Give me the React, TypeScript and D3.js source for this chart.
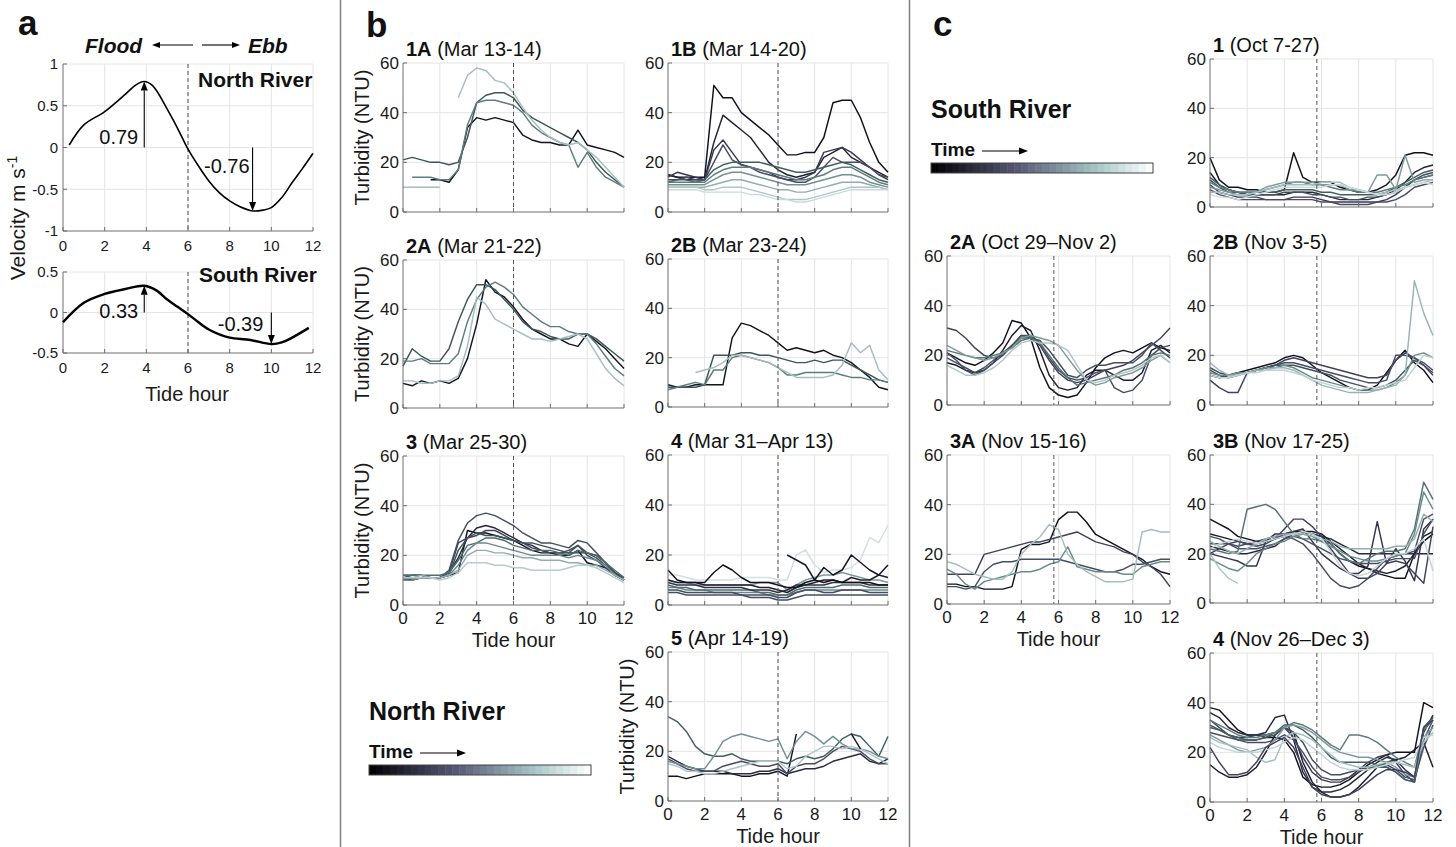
import { useEffect, useRef } from 'react';
import * as d3 from 'd3';

const _ = null;
const FONT = 'Liberation Sans, Arial, Helvetica, sans-serif';

// sampling grid of the turbidity records (tide hour)
const HOURS = [0, 0.5, 1, 1.5, 2, 2.5, 3, 3.5, 4, 4.5, 5, 5.5, 6, 6.5, 7, 7.5, 8, 8.5, 9, 9.5, 10, 10.5, 11, 11.5, 12];
const X_TICKS = [0, 2, 4, 6, 8, 10, 12];
const Y_TICKS = [0, 20, 40, 60];

// ---- panel a: tidal velocity ----
const northHour = [0.3, 1, 2, 3, 3.5, 3.9, 4.3, 5, 5.5, 6, 6.5, 7, 7.5, 8, 8.5, 9.1, 9.6, 10, 10.5, 11, 11.5, 12];
const northVel = [0.03, 0.27, 0.43, 0.64, 0.75, 0.79, 0.74, 0.46, 0.23, -0.02, -0.22, -0.4, -0.54, -0.64, -0.71, -0.76, -0.75, -0.72, -0.6, -0.42, -0.25, -0.07];
const southHour = [0, 1, 2, 3, 3.9, 4.5, 5, 5.5, 6, 6.5, 7, 7.5, 8, 9, 10, 10.5, 11, 11.8];
const southVel = [-0.12, 0.12, 0.23, 0.29, 0.33, 0.27, 0.16, 0.07, -0.02, -0.12, -0.21, -0.27, -0.31, -0.34, -0.39, -0.37, -0.31, -0.19];
const northPeakHour = [3.9, 9.1];
const northPeakVel = [0.79, -0.76];
const southPeakHour = [3.9, 10];
const southPeakVel = [0.33, -0.39];

// ---- panel b: North River turbidity (NTU), one row per day, time index 0..1 ----
const b1A = [
  [_, _, _, 13, 13, 12, 17, 34, 38, 37, 38, 37, 36, 31, 29, 28, 28, 27, 27, 33, 27, 26, 25, 24, 22],
  [21, 22, 21, 20, 20, 19, 20, 30, 44, 47, 48, 48, 46, 41, 38, 36, 34, 32, 30, 28, 25, 20, 16, 13, 10],
  [_, 14, 14, 14, 13, 13, 17, 35, 44, 45, 45, 44, 43, 40, 35, 32, 30, 28, 27, 18, 24, 18, 14, 12, 10],
  [10, 10, 10, 10, 10, _, 46, 55, 58, 57, 53, 52, 48, 42, 37, 33, 30, 28, 27, 28, 25, 22, 18, 14, 10],
];
const b1ATime = [0.03, 0.5, 0.65, 0.85];

const b1B = [
  [15, 14, 14, 14, 14, 51, 46, 46, 40, 37, 34, 31, 27, 23, 23, 24, 24, 30, 44, 45, 45, 38, 28, 20, 16],
  [15, 14, 13, 13, 13, 28, 39, 36, 33, 30, 25, 20, 17, 15, 14, 15, 16, 22, 24, 26, 22, 20, 18, 16, 14],
  [14, 16, 15, 14, 13, 25, 29, 24, 19, 18, 17, 16, 14, 13, 13, 14, 16, 24, 25, 26, 24, 21, 18, 15, 13],
  [13, 13, 14, 13, 13, 20, 27, 21, 19, 18, 16, 15, 14, 13, 12, 12, 14, 18, 22, 20, 20, 20, 18, 15, 14],
  [12, 13, 13, 12, 13, 17, 19, 20, 20, 20, 20, 19, 18, 17, 16, 16, 17, 18, 19, 20, 19, 17, 15, 13, 12],
  [12, 12, 12, 12, 12, 15, 17, 18, 18, 18, 17, 16, 15, 14, 13, 13, 14, 15, 17, 18, 18, 16, 14, 12, 11],
  [11, 11, 11, 11, 11, 13, 15, 16, 16, 15, 14, 13, 12, 11, 11, 11, 12, 13, 14, 15, 15, 14, 12, 11, 10],
  [10, 10, 10, 10, 10, 11, 12, 13, 13, 12, 11, 10, 9, 9, 8, 8, 9, 10, 11, 12, 12, 12, 11, 10, 9],
  [10, 10, 10, 10, 9, 9, 10, 10, 10, 9, 8, 7, 6, 5, 5, 5, 6, 7, 8, 9, 10, 10, 10, 10, 9],
  [9, 9, 9, 9, 8, 8, 8, 8, 8, 7, 7, 6, 5, 5, 4, 4, 5, 6, 7, 8, 9, 9, 9, 9, 9],
];
const b1BTime = [0.02, 0.12, 0.25, 0.35, 0.55, 0.65, 0.72, 0.8, 0.88, 0.95];

const b2A = [
  [10, 9, 11, 10, 11, 10, 12, 20, 34, 52, 47, 45, 41, 36, 32, 30, 28, 28, 26, 25, 30, 27, 24, 20, 16],
  [17, 24, 21, 19, 19, 24, 35, 44, 50, 50, 48, 44, 40, 35, 32, 31, 29, 28, 28, 30, 30, 28, 25, 22, 19],
  [19, 19, 20, 18, 18, 18, 22, 35, 44, 49, 51, 49, 46, 41, 38, 35, 33, 33, 31, 30, 30, 26, 21, 16, 13],
  [11, 11, 10, 10, 11, 11, 13, 25, 45, 42, 36, 34, 32, 30, 28, 28, 27, 28, 29, 30, 28, 22, 16, 12, 9],
];
const b2ATime = [0.03, 0.5, 0.65, 0.85];

const b2B = [
  [9, 8, 8, 9, 9, 9, 9, 28, 34, 33, 31, 29, 26, 23, 24, 23, 22, 23, 21, 20, 18, 15, 12, 8, 7],
  [8, 8, 8, 8, 9, 21, 21, 21, 22, 22, 21, 21, 20, 19, 18, 18, 19, 18, 19, 19, 17, 15, 13, 11, 10],
  [7, 8, 9, 10, 9, 15, 15, 20, 21, 20, 19, 18, 16, 13, 13, 14, 14, 14, 14, 13, 12, 12, 11, 11, 10],
  [_, _, _, 14, 15, 16, 18, 21, 21, 20, 19, 18, 16, 14, 12, 12, 12, 12, 13, 17, 26, 22, 25, 15, 11],
];
const b2BTime = [0.03, 0.5, 0.65, 0.85];

const b3 = [
  [11, 10, 11, 11, 11, 12, 13, 30, 29, 29, 28, 27, 26, 24, 22, 21, 21, 20, 20, 22, 17, 16, 15, 12, 10],
  [11, 11, 11, 11, 11, 13, 19, 27, 31, 32, 31, 29, 27, 25, 24, 22, 21, 21, 21, 21, 21, 20, 17, 13, 11],
  [12, 12, 12, 11, 11, 13, 25, 27, 28, 30, 30, 28, 26, 25, 23, 22, 21, 21, 22, 24, 20, 18, 15, 12, 10],
  [11, 12, 12, 11, 11, 14, 26, 33, 36, 37, 36, 34, 32, 29, 27, 25, 25, 24, 23, 26, 25, 21, 17, 13, 10],
  [10, 11, 11, 11, 11, 12, 22, 27, 29, 28, 28, 27, 26, 25, 25, 24, 23, 22, 21, 24, 21, 19, 16, 13, 10],
  [12, 12, 12, 12, 12, 13, 18, 24, 25, 27, 27, 26, 24, 23, 22, 22, 22, 21, 20, 22, 21, 20, 17, 14, 11],
  [10, 10, 11, 11, 11, 12, 16, 22, 25, 25, 24, 23, 22, 21, 20, 20, 20, 20, 19, 20, 19, 18, 16, 12, 10],
  [11, 11, 12, 11, 11, 12, 14, 20, 22, 22, 21, 21, 20, 19, 19, 18, 18, 18, 17, 17, 16, 16, 14, 12, 10],
  [11, 11, 11, 11, 10, 11, 13, 17, 17, 17, 16, 16, 15, 15, 14, 14, 14, 14, 15, 16, 16, 15, 13, 11, 9],
];
const b3Time = [0.03, 0.15, 0.3, 0.4, 0.5, 0.6, 0.7, 0.8, 0.9];

const b4 = [
  [12, 12, 11, 10, 10, 10, 10, 10, 11, 11, 11, 11, 10, 10, 20, 22, 16, 13, 14, 14, 15, 18, 27, 25, 32],
  [10, 9, 9, 8, 8, 8, 8, 8, 8, 8, 9, 9, 9, 6, 8, 10, 11, 12, 12, 13, 12, 11, 10, 10, 9],
  [7, 7, 6, 6, 6, 5, 5, 5, 5, 5, 5, 4, 4, 4, 5, 6, 6, 6, 6, 6, 6, 6, 6, 6, 6],
  [8, 7, 7, 6, 6, 6, 6, 6, 6, 6, 5, 5, 4, 4, 6, 7, 7, 7, 7, 8, 8, 8, 7, 7, 7],
  [5, 5, 4, 4, 4, 4, 4, 4, 4, 3, 3, 3, 2, 2, 3, 4, 4, 4, 4, 4, 4, 4, 4, 4, 4],
  [6, 6, 5, 5, 5, 5, 5, 5, 4, 4, 4, 4, 3, 3, 5, 6, 6, 5, 5, 6, 6, 6, 5, 5, 5],
  [9, 8, 8, 8, 7, 7, 7, 7, 7, 6, 6, 6, 5, 6, 8, 8, 8, 8, 9, 9, 9, 9, 8, 8, 8],
  [10, 9, 9, 9, 8, 8, 8, 8, 8, 8, 7, 7, 6, 5, 7, 8, 9, 10, 10, 9, 11, 10, 10, 12, 11],
  [_, _, _, _, _, _, _, _, _, _, _, _, _, 20, 18, 16, 10, 15, 12, 14, 20, 17, 14, 12, 16],
  [14, 10, 9, 9, 9, 13, 16, 14, 11, 9, 9, 9, 8, 7, 7, 9, 10, 9, 10, 9, 9, 9, 9, 8, 8],
];
const b4Time = [0.97, 0.75, 0.7, 0.6, 0.45, 0.35, 0.2, 0.1, 0.05, 0.02];

const b5 = [
  [10, 10, 9, 10, 11, 11, 11, 11, 10, 10, 11, 11, 12, 10, 27, _, _, _, _, _, _, _, _, _, _],
  [18, 16, 14, 13, 12, 12, 12, 11, 11, 11, 12, 12, 13, 11, 12, 13, 13, 14, 16, 17, 18, 19, 16, 15, 17],
  [17, 15, 13, 12, 12, 12, 14, 15, 16, 15, 14, 14, 15, 11, 14, 15, 15, 17, 20, 22, 21, 20, 17, 15, 15],
  [34, 32, 28, 22, 19, 18, 18, 19, 17, 16, 16, 16, 16, 15, 17, 18, 17, 18, 21, 25, 27, 26, 22, 18, 26],
  [16, 15, 14, 13, 13, 18, 24, 26, 27, 26, 25, 24, 25, 17, 24, 28, 26, 23, 26, 23, 21, 21, 20, 18, 17],
  [15, 14, 12, 12, 11, 11, 12, 13, 14, 15, 16, 16, 16, 13, 14, 18, 20, 22, 22, 21, 22, 21, 19, 17, 15],
  [_, _, _, _, _, _, _, _, _, _, _, _, _, _, _, _, _, _, _, _, 27, 21, _, _, _],
];
const b5Time = [0.03, 0.18, 0.35, 0.55, 0.72, 0.88, 0.05];

// ---- panel c: South River turbidity (NTU) ----
const c1 = [
  [20, 11, 8, 8, 7, 7, 6, 6, 7, 22, 12, 10, 10, 10, 8, 7, 6, 6, 7, 9, 13, 21, 22, 22, 21],
  [14, 9, 7, 6, 5, 5, 5, 5, 5, 6, 6, 6, 5, 4, 3, 3, 3, 3, 4, 5, 7, 10, 14, 16, 17],
  [9, 6, 5, 4, 4, 4, 3, 3, 3, 4, 4, 4, 3, 2, 2, 2, 2, 2, 2, 3, 5, 8, 11, 12, 13],
  [7, 5, 4, 3, 3, 3, 3, 3, 3, 3, 3, 3, 2, 2, 1, 1, 1, 1, 2, 2, 3, 5, 8, 9, 10],
  [11, 8, 6, 6, 5, 5, 5, 5, 6, 6, 6, 5, 5, 4, 4, 3, 3, 4, 4, 5, 6, 8, 11, 13, 14],
  [12, 9, 7, 6, 6, 6, 6, 6, 7, 7, 7, 7, 6, 6, 5, 5, 5, 5, 5, 6, 8, 10, 12, 14, 15],
  [10, 8, 7, 6, 6, 6, 7, 8, 9, 10, 10, 9, 9, 8, 7, 7, 6, 6, 6, 7, 8, 9, 11, 12, 13],
  [8, 7, 6, 5, 5, 6, 8, 9, 10, 10, 10, 10, 9, 9, 9, 7, 7, 6, 13, 13, 7, 21, 10, 11, 11],
  [6, 6, 5, 5, 5, 6, 7, 8, 9, 9, 9, 9, 10, 10, 10, 8, 7, 6, 5, 6, 7, 8, 9, 10, 11],
  [5, 4, 4, 3, 4, 5, 6, 7, 8, 8, 8, 8, 8, 9, 9, 8, 7, 6, 5, 5, 6, 8, 9, 10, 9],
];
const c1Time = [0.02, 0.12, 0.25, 0.35, 0.45, 0.55, 0.65, 0.75, 0.85, 0.95];

const c2A = [
  [21, 19, 17, 16, 18, 21, 25, 34, 33, 27, 15, 7, 4, 3, 4, 9, 15, 19, 21, 22, 21, 23, 25, 23, 22],
  [17, 16, 14, 13, 14, 17, 22, 28, 32, 30, 22, 12, 7, 6, 7, 12, 14, 14, 12, 10, 10, 13, 22, 24, 21],
  [31, 30, 27, 23, 20, 19, 20, 24, 28, 27, 24, 18, 13, 10, 9, 10, 12, 14, 15, 16, 18, 21, 24, 27, 31],
  [21, 18, 14, 12, 14, 17, 20, 24, 28, 28, 25, 19, 14, 11, 10, 11, 13, 14, 7, 5, 6, 10, 20, 23, 24],
  [19, 17, 15, 13, 15, 18, 21, 24, 27, 27, 26, 22, 17, 12, 11, 14, 16, 16, 17, 17, 17, 20, 25, 22, 19],
  [22, 21, 20, 19, 19, 20, 21, 23, 26, 27, 25, 20, 15, 11, 8, 9, 10, 11, 12, 14, 15, 17, 20, 21, 20],
  [24, 22, 20, 19, 18, 19, 21, 23, 27, 28, 27, 26, 24, 19, 14, 10, 8, 9, 11, 12, 13, 15, 18, 20, 17],
  [16, 14, 12, 12, 13, 15, 18, 22, 25, 26, 25, 25, 24, 22, 16, 10, 9, 10, 12, 13, 14, 16, 19, 20, 17],
];
const c2ATime = [0.02, 0.08, 0.3, 0.38, 0.45, 0.62, 0.75, 0.88];

const c2B = [
  [12, 11, 12, 13, 14, 15, 16, 17, 19, 20, 19, 16, 13, 11, 9, 7, 6, 6, 8, 13, 18, 22, 17, 14, 9],
  [10, 7, 5, 5, 13, 14, 15, 16, 18, 19, 18, 17, 16, 15, 14, 13, 12, 11, 11, 12, 18, 21, 19, 16, 12],
  [14, 12, 11, 12, 13, 14, 15, 16, 17, 17, 16, 15, 14, 13, 12, 11, 10, 9, 9, 10, 20, 20, 19, 17, 14],
  [15, 13, 12, 13, 13, 14, 15, 16, 16, 16, 15, 14, 13, 12, 10, 9, 8, 7, 7, 8, 10, 14, 18, 16, 13],
  [13, 12, 12, 13, 13, 14, 15, 15, 16, 15, 13, 11, 10, 9, 8, 7, 6, 6, 6, 7, 9, 12, 20, 21, 19],
  [17, 14, 12, 12, 13, 14, 14, 15, 15, 14, 12, 10, 8, 7, 6, 5, 5, 5, 6, 7, 8, 12, 50, 37, 28],
  [12, 11, 11, 12, 13, 13, 14, 14, 14, 13, 12, 10, 9, 8, 7, 7, 6, 7, 7, 8, 9, 10, 15, 20, 19],
];
const c2BTime = [0.02, 0.3, 0.38, 0.45, 0.7, 0.82, 0.92];

const c3A = [
  [8, 8, 7, 7, 6, 6, 6, 7, 22, 24, 24, 25, 34, 37, 37, 33, 28, 26, 24, 22, 20, 18, 15, 13, 12],
  [12, 12, 12, 12, 20, 21, 22, 23, 24, 25, 25, 26, 27, 28, 29, 27, 25, 24, 23, 21, 20, 17, 15, 12, 7],
  [7, 7, 6, 7, 13, 16, 17, 17, 18, 18, 18, 18, 18, 17, 16, 15, 14, 13, 13, 14, 16, 16, 17, 18, 18],
  [14, 12, 8, 6, 9, 10, 11, 12, 13, 13, 14, 16, 17, 23, 15, 14, 13, 13, 13, 12, 12, 15, 16, 17, 17],
  [17, 16, 14, 12, 11, 10, 10, 13, 20, 24, 27, 32, 30, 20, 16, 13, 11, 9, 9, 9, 10, 29, 30, 29, 29],
];
const c3ATime = [0.02, 0.3, 0.4, 0.7, 0.85];

const c3B = [
  [34, 32, 30, 27, 26, 25, 25, 26, 28, 29, 29, 28, 27, 24, 20, 17, 15, 14, 12, 11, 10, 10, 20, 25, 28],
  [28, 27, 26, 25, 24, 24, 25, 26, 27, 28, 29, 29, 28, 25, 22, 19, 16, 14, 13, 12, 13, 15, 20, 27, 29],
  [23, 22, 21, 20, 20, 21, 22, 23, 26, 28, 29, 28, 27, 26, 24, 22, 20, 20, 20, 20, 20, 20, 20, 20, 20],
  [20, 19, 18, 17, 15, 15, 25, 28, 28, 29, 30, 25, 20, 17, 14, 12, 12, 15, 33, 16, 22, 17, 9, 30, 34],
  [20, 22, 24, 25, 24, 23, 24, 26, 30, 34, 34, 31, 27, 22, 17, 12, 10, 10, 12, 16, 17, 16, 12, 8, 31],
  [27, 26, 24, 22, 22, 22, 23, 24, 26, 27, 26, 24, 22, 20, 18, 17, 16, 16, 16, 17, 18, 18, 18, 28, 34],
  [24, 24, 24, 23, 24, 25, 26, 27, 27, 26, 24, 20, 15, 10, 7, 6, 7, 10, 14, 18, 19, 20, 21, 34, 36],
  [22, 21, 20, 21, 38, 39, 40, 38, 33, 28, 26, 26, 25, 24, 20, 17, 16, 18, 20, 21, 21, 22, 30, 49, 42],
  [18, 16, 14, 13, 16, 20, 22, 24, 25, 27, 28, 27, 25, 23, 21, 19, 18, 17, 17, 18, 19, 20, 28, 45, 38],
  [25, 23, 21, 20, 22, 24, 26, 27, 28, 28, 28, 27, 26, 25, 23, 22, 22, 22, 22, 22, 23, 23, 26, 36, 33],
  [20, 14, 10, 8, _, _, _, _, _, _, _, _, _, _, _, _, _, _, _, _, _, _, _, _, _],
  [22, 24, 25, 26, 25, 24, 25, 26, 27, 28, 29, 28, 26, 21, 15, 12, 11, 12, 15, 18, 20, 20, 22, 26, 13],
];
const c3BTime = [0.02, 0.08, 0.15, 0.22, 0.3, 0.4, 0.36, 0.62, 0.7, 0.8, 0.88, 0.93];

const c4 = [
  [38, 37, 33, 29, 27, 27, 26, 26, 25, 20, 10, 7, 6, 6, 7, 9, 12, 15, 17, 19, 20, 20, 20, 40, 38],
  [15, 12, 10, 10, 11, 14, 20, 27, 30, 28, 16, 8, 4, 2, 2, 3, 6, 10, 14, 16, 17, 18, 21, 24, 14],
  [36, 34, 30, 28, 27, 27, 28, 34, 35, 25, 12, 6, 4, 4, 5, 7, 10, 13, 16, 18, 17, 13, 10, 28, 35],
  [33, 30, 27, 26, 26, 27, 27, 28, 30, 26, 18, 12, 9, 8, 8, 10, 13, 16, 18, 19, 16, 11, 8, 30, 34],
  [31, 29, 27, 25, 24, 24, 24, 25, 27, 25, 20, 14, 10, 9, 9, 10, 12, 14, 15, 15, 13, 10, 9, 22, 31],
  [28, 27, 26, 25, 25, 25, 26, 27, 30, 28, 24, 17, 13, 11, 11, 12, 13, 14, 14, 14, 12, 9, 8, 25, 33],
  [30, 29, 27, 26, 25, 25, 26, 28, 31, 31, 29, 26, 22, 18, 16, 16, 16, 16, 15, 14, 12, 9, 8, 30, 34],
  [33, 31, 29, 27, 26, 26, 27, 28, 30, 32, 31, 29, 26, 23, 21, 27, 27, 26, 24, 21, 18, 16, 14, 29, 33],
  [27, 25, 23, 21, 20, 21, 22, 25, 30, 31, 30, 28, 25, 22, 20, 19, 18, 18, 17, 16, 14, 11, 10, 26, 30],
  [26, 24, 23, 22, 21, 18, 16, 17, 26, 28, 27, 25, 22, 19, 16, 15, 14, 14, 15, 16, 16, 15, 14, 24, 28],
  [24, 22, 21, 20, 20, 20, 21, 22, 24, 26, 25, 22, 19, 16, 14, 13, 13, 13, 14, 15, 16, 17, 18, 26, 27],
  [22, 16, 11, 11, 12, 16, 22, 24, 26, 22, 14, 6, 3, 2, 2, 3, 5, 8, 11, 13, 13, 12, 10, 30, 33],
];
const c4Time = [0.02, 0.08, 0.15, 0.25, 0.35, 0.45, 0.55, 0.65, 0.75, 0.85, 0.93, 0.3];

// colour maps: bone-like for the colour bar, a slightly teal variant for the traces
const bone = d3.scaleLinear<string>().domain([0, 0.375, 0.75, 1]).range(['#000000', '#545474', '#a7c7c7', '#ffffff']);
const lineColor = d3.scaleLinear<string>()
  .domain([0, 0.35, 0.52, 0.7, 0.85, 1])
  .range(['#0e0e1a', '#4a4a68', '#3a5656', '#6b8a8a', '#a5bebe', '#dce8e8']);

const turbPanels = [
  { bold: '1A', rest: ' (Mar 13-14)', lines: b1A, time: b1ATime, left: 403, right: 624, top: 63, bottom: 212, dash: 6, yLab: true, xLab: false },
  { bold: '1B', rest: ' (Mar 14-20)', lines: b1B, time: b1BTime, left: 668, right: 888, top: 63, bottom: 212, dash: 6, yLab: false, xLab: false },
  { bold: '2A', rest: ' (Mar 21-22)', lines: b2A, time: b2ATime, left: 403, right: 624, top: 260, bottom: 408, dash: 6, yLab: true, xLab: false },
  { bold: '2B', rest: ' (Mar 23-24)', lines: b2B, time: b2BTime, left: 668, right: 888, top: 259, bottom: 407, dash: 6, yLab: false, xLab: false },
  { bold: '3', rest: ' (Mar 25-30)', lines: b3, time: b3Time, left: 403, right: 624, top: 456, bottom: 605, dash: 6, yLab: true, xLab: true },
  { bold: '4', rest: ' (Mar 31\u2013Apr 13)', lines: b4, time: b4Time, left: 668, right: 888, top: 455, bottom: 605, dash: 6, yLab: false, xLab: false },
  { bold: '5', rest: ' (Apr 14-19)', lines: b5, time: b5Time, left: 668, right: 888, top: 652, bottom: 801, dash: 6, yLab: true, xLab: true },
  { bold: '1', rest: ' (Oct 7-27)', lines: c1, time: c1Time, left: 1210, right: 1433, top: 59, bottom: 207, dash: 5.75, yLab: false, xLab: false },
  { bold: '2A', rest: ' (Oct 29\u2013Nov 2)', lines: c2A, time: c2ATime, left: 947, right: 1170, top: 256, bottom: 405, dash: 5.75, yLab: false, xLab: false },
  { bold: '2B', rest: ' (Nov 3-5)', lines: c2B, time: c2BTime, left: 1210, right: 1433, top: 256, bottom: 405, dash: 5.75, yLab: false, xLab: false },
  { bold: '3A', rest: ' (Nov 15-16)', lines: c3A, time: c3ATime, left: 947, right: 1170, top: 455, bottom: 604, dash: 5.75, yLab: false, xLab: true },
  { bold: '3B', rest: ' (Nov 17-25)', lines: c3B, time: c3BTime, left: 1210, right: 1433, top: 455, bottom: 603, dash: 5.75, yLab: false, xLab: false },
  { bold: '4', rest: ' (Nov 26\u2013Dec 3)', lines: c4, time: c4Time, left: 1210, right: 1433, top: 653, bottom: 802, dash: 5.75, yLab: false, xLab: true },
];

const AXIS = '#6e6e6e';
const GRID = '#e4e4e4';

function arrow(g: any, x1: number, y1: number, x2: number, y2: number, head = 9, w = 7) {
  const a = Math.atan2(y2 - y1, x2 - x1);
  const bx = x2 - head * Math.cos(a);
  const by = y2 - head * Math.sin(a);
  g.append('line').attr('x1', x1).attr('y1', y1).attr('x2', bx).attr('y2', by)
    .attr('stroke', '#000').attr('stroke-width', 1.1);
  const px = -Math.sin(a) * w / 2;
  const py = Math.cos(a) * w / 2;
  g.append('path')
    .attr('d', `M${x2},${y2}L${bx + px},${by + py}L${bx - px},${by - py}Z`)
    .attr('fill', '#000');
}

function drawTurbidity(svg: any, p: any) {
  const x = d3.scaleLinear().domain([0, 12]).range([p.left, p.right]);
  const y = d3.scaleLinear().domain([0, 60]).range([p.bottom, p.top]);
  const g = svg.append('g');

  g.selectAll('line.gx').data(X_TICKS.slice(1)).join('line')
    .attr('x1', (d: number) => x(d)).attr('x2', (d: number) => x(d))
    .attr('y1', p.top).attr('y2', p.bottom).attr('stroke', GRID);
  g.selectAll('line.gy').data(Y_TICKS.slice(1)).join('line')
    .attr('x1', p.left).attr('x2', p.right)
    .attr('y1', (d: number) => y(d)).attr('y2', (d: number) => y(d)).attr('stroke', GRID);

  const line = d3.line<number | null>()
    .defined((d) => d != null)
    .x((_d, i) => x(HOURS[i]))
    .y((d) => y(d as number));

  p.lines.forEach((vals: (number | null)[], k: number) => {
    g.append('path').attr('d', line(vals)).attr('fill', 'none')
      .attr('stroke', lineColor(p.time[k])).attr('stroke-width', 1.45)
      .attr('stroke-linejoin', 'round');
  });

  g.append('line').attr('x1', x(p.dash)).attr('x2', x(p.dash))
    .attr('y1', p.top).attr('y2', p.bottom)
    .attr('stroke', '#555').attr('stroke-dasharray', '4,3').attr('stroke-width', 1);

  // axes
  g.append('line').attr('x1', p.left).attr('x2', p.left).attr('y1', p.top).attr('y2', p.bottom).attr('stroke', AXIS);
  g.append('line').attr('x1', p.left).attr('x2', p.right).attr('y1', p.bottom).attr('y2', p.bottom).attr('stroke', AXIS);
  g.selectAll('line.tx').data(X_TICKS).join('line')
    .attr('x1', (d: number) => x(d)).attr('x2', (d: number) => x(d))
    .attr('y1', p.bottom).attr('y2', p.bottom - 4).attr('stroke', AXIS);
  g.selectAll('line.ty').data(Y_TICKS).join('line')
    .attr('x1', p.left).attr('x2', p.left + 4)
    .attr('y1', (d: number) => y(d)).attr('y2', (d: number) => y(d)).attr('stroke', AXIS);

  g.selectAll('text.yt').data(Y_TICKS).join('text')
    .attr('x', p.left - 4).attr('y', (d: number) => y(d)).attr('dy', '0.36em')
    .attr('text-anchor', 'end').attr('font-size', 17).attr('font-family', FONT).attr('fill', '#1a1a1a')
    .text((d: number) => String(d));

  if (p.xLab) {
    g.selectAll('text.xt').data(X_TICKS).join('text')
      .attr('x', (d: number) => x(d)).attr('y', p.bottom + 19)
      .attr('text-anchor', 'middle').attr('font-size', 17).attr('font-family', FONT).attr('fill', '#1a1a1a')
      .text((d: number) => String(d));
    g.append('text').attr('x', (p.left + p.right) / 2).attr('y', p.bottom + 42)
      .attr('text-anchor', 'middle').attr('font-size', 20).attr('font-family', FONT).attr('fill', '#1a1a1a')
      .text('Tide hour');
  }
  if (p.yLab) {
    g.append('text')
      .attr('transform', `translate(${p.left - 34},${(p.top + p.bottom) / 2}) rotate(-90)`)
      .attr('text-anchor', 'middle').attr('font-size', 20).attr('font-family', FONT).attr('fill', '#1a1a1a')
      .text('Turbidity (NTU)');
  }
  const t = g.append('text').attr('x', p.left + 3).attr('y', p.top - 7)
    .attr('font-size', 20).attr('font-family', FONT).attr('fill', '#111');
  t.append('tspan').attr('font-weight', 'bold').text(p.bold);
  t.append('tspan').text(p.rest);
}

function drawVelocity(svg: any, c: any) {
  const x = d3.scaleLinear().domain([0, 12]).range([63, 313]);
  const y = d3.scaleLinear().domain(c.domain).range([c.bottom, c.top]);
  const g = svg.append('g');
  g.selectAll('line.gx').data(X_TICKS.slice(1)).join('line')
    .attr('x1', (d: number) => x(d)).attr('x2', (d: number) => x(d))
    .attr('y1', c.top).attr('y2', c.bottom).attr('stroke', GRID);
  g.selectAll('line.gy').data(c.ticks.slice(1)).join('line')
    .attr('x1', 63).attr('x2', 313)
    .attr('y1', (d: number) => y(d)).attr('y2', (d: number) => y(d)).attr('stroke', GRID);
  g.append('line').attr('x1', x(6)).attr('x2', x(6)).attr('y1', c.top).attr('y2', c.bottom)
    .attr('stroke', '#555').attr('stroke-dasharray', '4,3');
  g.append('line').attr('x1', 63).attr('x2', 63).attr('y1', c.top).attr('y2', c.bottom).attr('stroke', AXIS);
  g.append('line').attr('x1', 63).attr('x2', 313).attr('y1', c.bottom).attr('y2', c.bottom).attr('stroke', AXIS);
  g.selectAll('line.tx').data(X_TICKS).join('line')
    .attr('x1', (d: number) => x(d)).attr('x2', (d: number) => x(d))
    .attr('y1', c.bottom).attr('y2', c.bottom - 4).attr('stroke', AXIS);
  g.selectAll('line.ty').data(c.ticks).join('line')
    .attr('x1', 63).attr('x2', 67)
    .attr('y1', (d: number) => y(d)).attr('y2', (d: number) => y(d)).attr('stroke', AXIS);
  g.selectAll('text.yt').data(c.ticks).join('text')
    .attr('x', 58).attr('y', (d: number) => y(d)).attr('dy', '0.36em')
    .attr('text-anchor', 'end').attr('font-size', 15).attr('font-family', FONT).attr('fill', '#1a1a1a')
    .text((d: number) => String(d));
  g.selectAll('text.xt').data(X_TICKS).join('text')
    .attr('x', (d: number) => x(d)).attr('y', c.bottom + 20)
    .attr('text-anchor', 'middle').attr('font-size', 15).attr('font-family', FONT).attr('fill', '#1a1a1a')
    .text((d: number) => String(d));

  const pts = c.hours.map((h: number, i: number) => [x(h), y(c.vel[i])]);
  g.append('path').attr('d', d3.line().curve(d3.curveCatmullRom)(pts))
    .attr('fill', 'none').attr('stroke', '#000').attr('stroke-width', c.width);

  c.peakHour.forEach((h: number, i: number) => {
    const v = c.peakVel[i];
    arrow(g, x(h), y(0), x(h), y(v), 9, 7);
    const pos = c.labelPos[i];
    g.append('text').attr('x', x(h) + pos[0]).attr('y', y(0) + pos[1])
      .attr('text-anchor', 'end').attr('font-size', 20).attr('font-family', FONT).attr('fill', '#111')
      .text(String(v));
  });
  g.append('text').attr('x', c.nameX).attr('y', c.nameY)
    .attr('font-size', 21).attr('font-weight', 'bold').attr('font-family', FONT).attr('fill', '#111')
    .text(c.name);
}

function drawColorbar(svg: any, x0: number, y0: number, w: number, h: number) {
  const n = 32;
  const steps = d3.range(n);
  const sx = d3.scaleLinear().domain([0, n]).range([x0, x0 + w]);
  svg.append('g').selectAll('rect').data(steps).join('rect')
    .attr('x', (d: number) => sx(d)).attr('y', y0)
    .attr('width', w / n + 0.5).attr('height', h)
    .attr('fill', (d: number) => bone((d + 0.5) / n));
  svg.append('rect').attr('x', x0).attr('y', y0).attr('width', w).attr('height', h)
    .attr('fill', 'none').attr('stroke', '#444').attr('stroke-width', 1);
}

function drawLegend(svg: any, river: string, x0: number, nameY: number) {
  svg.append('text').attr('x', x0).attr('y', nameY)
    .attr('font-size', 25).attr('font-weight', 'bold').attr('font-family', FONT).attr('fill', '#111')
    .text(river);
  svg.append('text').attr('x', x0).attr('y', nameY + 38)
    .attr('font-size', 19).attr('font-weight', 'bold').attr('font-family', FONT).attr('fill', '#111')
    .text('Time');
  arrow(svg, x0 + 51, nameY + 33, x0 + 97, nameY + 33, 9, 7);
  drawColorbar(svg, x0, nameY + 45, 222, 10);
}

export default function App() {
  const ref = useRef<SVGSVGElement>(null);

  useEffect(() => {
    const svg = d3.select(ref.current);
    svg.selectAll('*').remove();

    svg.append('rect').attr('width', 1456).attr('height', 847).attr('fill', '#fff');

    // panel separators
    [340.5, 909.5].forEach((sx) => {
      svg.append('line').attr('x1', sx).attr('x2', sx).attr('y1', 0).attr('y2', 847)
        .attr('stroke', '#808080').attr('stroke-width', 1.5);
    });

    // panel letters
    [['a', 18, 35], ['b', 366, 37], ['c', 933, 36]].forEach(([l, lx, ly]) => {
      svg.append('text').attr('x', lx as number).attr('y', ly as number)
        .attr('font-size', 35).attr('font-weight', 'bold').attr('font-family', FONT).attr('fill', '#111')
        .text(l as string);
    });

    // panel a
    svg.append('text').attr('x', 85).attr('y', 53).attr('font-size', 21).attr('font-weight', 'bold')
      .attr('font-style', 'italic').attr('font-family', FONT).attr('fill', '#111').text('Flood');
    svg.append('text').attr('x', 248).attr('y', 53).attr('font-size', 21).attr('font-weight', 'bold')
      .attr('font-style', 'italic').attr('font-family', FONT).attr('fill', '#111').text('Ebb');
    arrow(svg, 193, 45, 152, 45, 8, 6);
    arrow(svg, 202, 45, 240, 45, 8, 6);

    drawVelocity(svg, {
      domain: [-1, 1], ticks: [-1, -0.5, 0, 0.5, 1], top: 64, bottom: 231,
      hours: northHour, vel: northVel, width: 1.6,
      peakHour: northPeakHour, peakVel: northPeakVel, labelPos: [[-6, -4], [-3, 25]],
      name: 'North River', nameX: 198, nameY: 87,
    });
    drawVelocity(svg, {
      domain: [-0.5, 0.5], ticks: [-0.5, 0, 0.5], top: 272, bottom: 353,
      hours: southHour, vel: southVel, width: 2.4,
      peakHour: southPeakHour, peakVel: southPeakVel, labelPos: [[-6, 5], [-8, 18]],
      name: 'South River', nameX: 199, nameY: 282,
    });
    svg.append('text').attr('x', 187).attr('y', 401).attr('text-anchor', 'middle')
      .attr('font-size', 20).attr('font-family', FONT).attr('fill', '#1a1a1a').text('Tide hour');
    const vl = svg.append('text')
      .attr('transform', 'translate(25,218) rotate(-90)')
      .attr('text-anchor', 'middle').attr('font-size', 21).attr('font-family', FONT).attr('fill', '#1a1a1a');
    vl.append('tspan').text('Velocity m s');
    vl.append('tspan').attr('dy', -8).attr('font-size', 14).text('-1');

    // panels b and c
    turbPanels.forEach((p) => drawTurbidity(svg, p));

    drawLegend(svg, 'North River', 369, 720);
    drawLegend(svg, 'South River', 931, 118);
  }, []);

  return (
    <svg ref={ref} width={1456} height={847}
      style={{ position: 'absolute', left: 0, top: 0, display: 'block' }} />
  );
}
